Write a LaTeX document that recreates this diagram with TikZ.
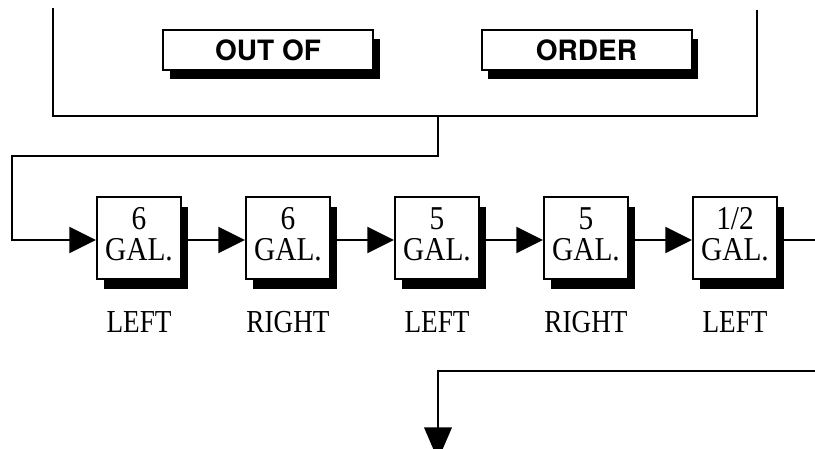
\documentclass[tikz,border=0pt]{standalone}
\usepackage{fontspec}
\usepackage{graphicx}
\usetikzlibrary{arrows.meta,shadows}
\newfontfamily\herosfont{TeX Gyre Heros}
\newfontfamily\serffont{Liberation Serif}
\newcommand{\galtxt}[1]{\scalebox{0.88}[1]{#1}\\\scalebox{0.88}[1]{GAL.}\rule[-6pt]{0pt}{6pt}}
\newcommand{\lbltxt}[1]{\scalebox{0.85}[1]{#1}}
\begin{document}
\begin{tikzpicture}[x=0.75pt,y=-0.75pt,
  conn/.style={line width=1.9pt},
  arr/.style={conn,-{Triangle[length=20pt,width=19.5pt]}},
  arrlong/.style={conn,-{Triangle[length=24.5pt,width=20.5pt]}},
  frameline/.style={line width=1.6pt},
  signbox/.style={draw,line width=1.5pt,fill=white,minimum width=157.5pt,minimum height=30pt,
    inner sep=0pt,font=\herosfont\bfseries\fontsize{21}{22}\selectfont,
    general shadow={fill=black,shadow xshift=5pt,shadow yshift=-6.75pt}},
  galbox/.style={draw,line width=1.6pt,fill=white,minimum width=63pt,minimum height=61.5pt,
    inner sep=0pt,align=center,font=\serffont\fontsize{25}{23}\selectfont,
    general shadow={fill=black,shadow xshift=5.25pt,shadow yshift=-7.5pt}},
  lbl/.style={anchor=base,inner sep=0pt,font=\serffont\fontsize{24}{26}\selectfont}
]
\useasboundingbox (0,0) rectangle (815,449);
% frame
\draw[frameline] (53,8) -- (53,116) -- (757,116) -- (757,10);
\node[signbox] (oo) at (268,50) {OUT OF};
\node[signbox] (od) at (586.5,50) {ORDER};
% boxes
\node[galbox] (b1) at (139,238) {\galtxt{6}};
\node[galbox] (b2) at (288,238) {\galtxt{6}};
\node[galbox] (b3) at (437,238) {\galtxt{5}};
\node[galbox] (b4) at (586,238) {\galtxt{5}};
\node[galbox] (b5) at (735,238) {\galtxt{1/2}};
% labels
\node[lbl] (l1) at (139,333) {\lbltxt{LEFT}};
\node[lbl] (l2) at (288,333) {\lbltxt{RIGHT}};
\node[lbl] (l3) at (437,333) {\lbltxt{LEFT}};
\node[lbl] (l4) at (586,333) {\lbltxt{RIGHT}};
\node[lbl] (l5) at (735,333) {\lbltxt{LEFT}};
% connectors
\coordinate (fb) at (438,116);
\coordinate (cl) at (12,156);
\coordinate (re) at (815,240);
\coordinate (br) at (815,371);
\coordinate (bt) at (438,460);
\draw[arr] (fb) |- (cl) |- ([yshift=-1.5pt]b1.west);
\draw[arr] ([yshift=-1.5pt]b1.east) -- ([yshift=-1.5pt]b2.west);
\draw[arr] ([yshift=-1.5pt]b2.east) -- ([yshift=-1.5pt]b3.west);
\draw[arr] ([yshift=-1.5pt]b3.east) -- ([yshift=-1.5pt]b4.west);
\draw[arr] ([yshift=-1.5pt]b4.east) -- ([yshift=-1.5pt]b5.west);
\draw[conn] ([yshift=-1.5pt]b5.east) -- (re);
\draw[arrlong,line width=2.2pt] (br) -| (bt);
\end{tikzpicture}
\end{document}
